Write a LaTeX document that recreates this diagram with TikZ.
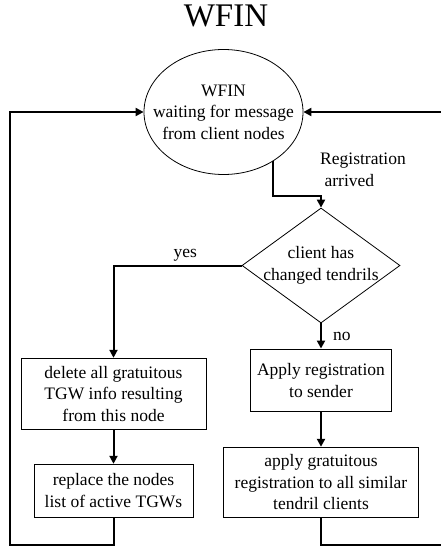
\documentclass[tikz,border=0pt]{standalone}
\usepackage{fontspec}
\setmainfont{Liberation Serif}
\usetikzlibrary{shapes.geometric,arrows.meta}

\begin{document}
\begin{tikzpicture}[x=1pt,y=-1pt]
	\tikzstyle{every node}+=[inner sep=0pt, align=center, font=\fontsize{17.5}{21.5}\selectfont]
	\tikzstyle{flow}=[line width=2pt, -{Triangle[length=8pt,width=8pt]}]
	\tikzstyle{state}=[draw, ellipse, line width=0.8pt, minimum width=159pt, minimum height=125pt]
	\tikzstyle{decision}=[draw, diamond, line width=0.8pt, minimum width=158pt, minimum height=115pt]
	\tikzstyle{action}=[draw, rectangle, line width=0.8pt]
	\useasboundingbox (0,0) rectangle (440,548);
	% title
	\node [anchor=base, font=\fontsize{33}{40}\selectfont] (title) at (226,27) {WFIN};
	% states and boxes
	\node [state, label={[name=waittxt]center:WFIN\\waiting for message\\from client nodes}] (wait) at (223.5,112) {};
	\node [decision, label={[name=chktxt]center:client has\\changed tendrils}] (chk) at (321,265.5) {};
	\node [action, minimum width=185pt, minimum height=71pt] (del) at (113.5,393.7) {delete all gratuitous\\TGW info resulting\\from this node};
	\node [action, minimum width=159pt, minimum height=53pt] (rep) at (113.5,490.7) {replace the nodes\\list of active TGWs};
	\node [action, minimum width=141pt, minimum height=62.7pt] (app) at (321,380.3) {Apply registration\\to sender};
	\node [action, minimum width=195pt, minimum height=70pt] (grat) at (321,482.2) {apply gratuitous\\registration to all similar\\tendril clients};
	\coordinate (lb) at (10.3,544.5);
	\coordinate (rb) at (444,544.5);
	% connectors
	\draw [flow] (wait.-45) -- ++(0,35) -| (chk.north);
	\node [anchor=north west, align=left] (regtxt) at (320,153) {Registration\\\ arrived};
	\draw [flow] (chk.west) -| node [pos=0.22, above=3pt] (yes) {yes} (del.north);
	\draw [flow] (chk.south) -- node [right=11pt] (no) {no} (app.north);
	\draw [flow] (del.south) -- (rep.north);
	\draw [flow] (app.south) -- (grat.north);
	\draw [flow] (rep.south) |- (lb) |- (wait.west);
	\draw [flow] (grat.south) |- (rb) |- (wait.east);
\end{tikzpicture}
\end{document}
